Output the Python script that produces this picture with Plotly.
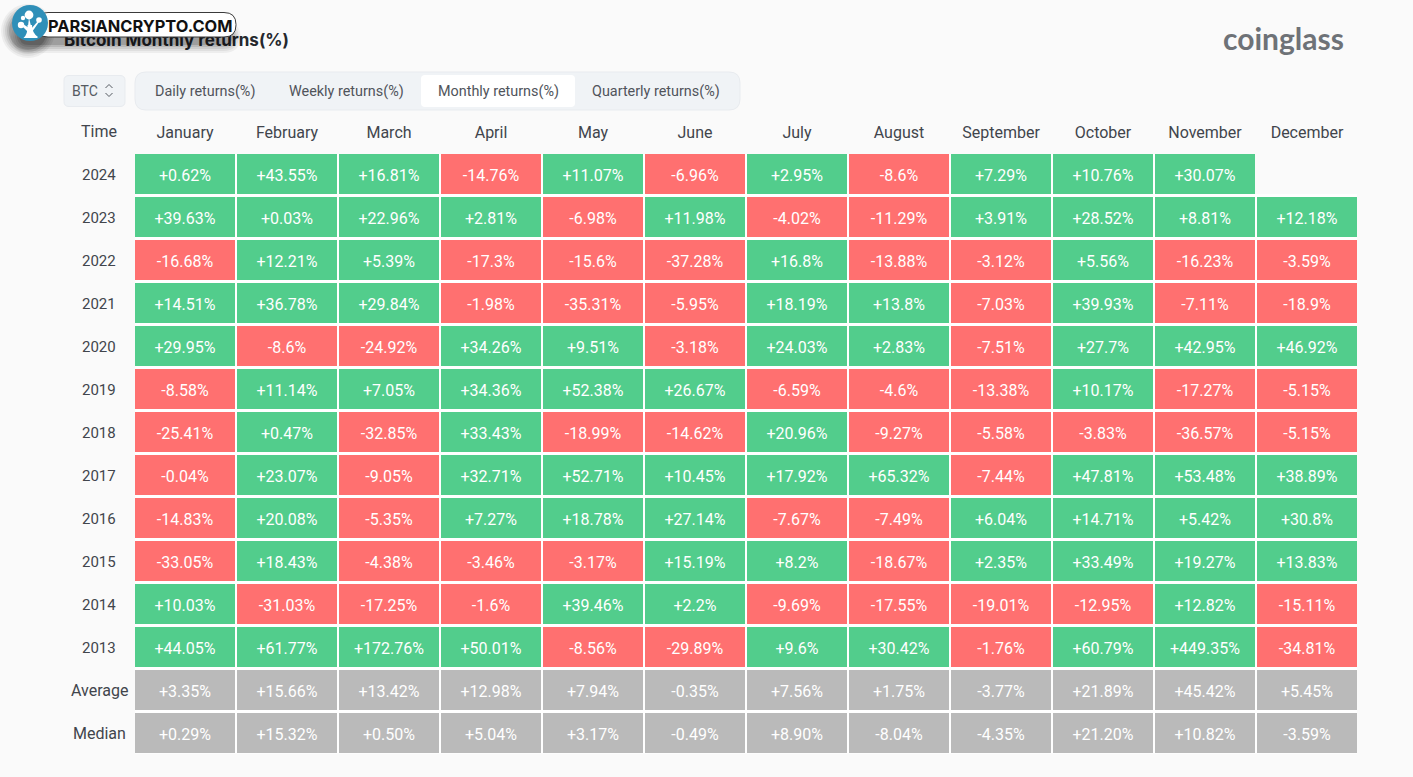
import plotly.graph_objects as go

months = ["January","February","March","April","May","June","July","August","September","October","November","December"]
years = ["2024","2023","2022","2021","2020","2019","2018","2017","2016","2015","2014","2013"]
r2024 = [0.62,43.55,16.81,-14.76,11.07,-6.96,2.95,-8.6,7.29,10.76,30.07,None]
r2023 = [39.63,0.03,22.96,2.81,-6.98,11.98,-4.02,-11.29,3.91,28.52,8.81,12.18]
r2022 = [-16.68,12.21,5.39,-17.3,-15.6,-37.28,16.8,-13.88,-3.12,5.56,-16.23,-3.59]
r2021 = [14.51,36.78,29.84,-1.98,-35.31,-5.95,18.19,13.8,-7.03,39.93,-7.11,-18.9]
r2020 = [29.95,-8.6,-24.92,34.26,9.51,-3.18,24.03,2.83,-7.51,27.7,42.95,46.92]
r2019 = [-8.58,11.14,7.05,34.36,52.38,26.67,-6.59,-4.6,-13.38,10.17,-17.27,-5.15]
r2018 = [-25.41,0.47,-32.85,33.43,-18.99,-14.62,20.96,-9.27,-5.58,-3.83,-36.57,-5.15]
r2017 = [-0.04,23.07,-9.05,32.71,52.71,10.45,17.92,65.32,-7.44,47.81,53.48,38.89]
r2016 = [-14.83,20.08,-5.35,7.27,18.78,27.14,-7.67,-7.49,6.04,14.71,5.42,30.8]
r2015 = [-33.05,18.43,-4.38,-3.46,-3.17,15.19,8.2,-18.67,2.35,33.49,19.27,13.83]
r2014 = [10.03,-31.03,-17.25,-1.6,39.46,2.2,-9.69,-17.55,-19.01,-12.95,12.82,-15.11]
r2013 = [44.05,61.77,172.76,50.01,-8.56,-29.89,9.6,30.42,-1.76,60.79,449.35,-34.81]
average = [3.35,15.66,13.42,12.98,7.94,-0.35,7.56,1.75,-3.77,21.89,45.42,5.45]
median = [0.29,15.32,0.50,5.04,3.17,-0.49,8.90,-8.04,-4.35,21.20,10.82,-3.59]
tabs = ["Daily returns(%)","Weekly returns(%)","Monthly returns(%)","Quarterly returns(%)"]

year_rows = [r2024,r2023,r2022,r2021,r2020,r2019,r2018,r2017,r2016,r2015,r2014,r2013]
row_names = years + ["Average","Median"]

GREEN, RED, GREY = "#52cd8c", "#ff7070", "#bababa"
INK = "#41454c"
BG = "#fafafa"
FONT = "Roboto"

def kind(v):
    return None if v is None else (1 if v >= 0 else 0)

z = [[kind(v) for v in row] for row in year_rows] + [[2]*12, [2]*12]
text = [["" if v is None else f"{v:+g}%" for v in row] for row in year_rows] \
     + [[f"{v:+.2f}%" for v in average], [f"{v:+.2f}%" for v in median]]

W, H = 1413, 777
X0, X1 = 134, 1358
Y0, Y1 = 153, 755

fig = go.Figure()
fig.add_trace(go.Heatmap(
    z=z, x=months, y=row_names, text=text, texttemplate="%{text}",
    textfont=dict(color="white", size=16, family=FONT),
    colorscale=[[0,RED],[0.3333,RED],[0.3333,GREEN],[0.6667,GREEN],[0.6667,GREY],[1,GREY]],
    zmin=0, zmax=2, showscale=False, xgap=2, ygap=3, hoverongaps=False, hoverinfo="skip",
))
# pixel-space overlay for the page furniture
fig.add_trace(go.Scatter(
    x=[64], y=[41.5], xaxis="x2", yaxis="y2", mode="text", text=["<b>Bitcoin Monthly returns(%)</b>"],
    textposition="middle right", textfont=dict(size=17, color="#25282d", family="Inter"),
    hoverinfo="skip", showlegend=False,
))

def box(x0,y0,x1,y1,r):
    return (f"M{x0+r},{y0} L{x1-r},{y0} Q{x1},{y0} {x1},{y0+r} L{x1},{y1-r} Q{x1},{y1} {x1-r},{y1} "
            f"L{x0+r},{y1} Q{x0},{y1} {x0},{y1-r} L{x0},{y0+r} Q{x0},{y0} {x0+r},{y0} Z")

shapes = []
def path(d, fill, line=None, lw=0, opacity=1, layer="above"):
    shapes.append(dict(type="path", path=d, fillcolor=fill, opacity=opacity, layer=layer, xref="x2", yref="y2",
                       line=dict(color=line or "rgba(0,0,0,0)", width=lw)))
def circle(cx, cy, r, fill, line=None, lw=0, opacity=1):
    shapes.append(dict(type="circle", x0=cx-r, x1=cx+r, y0=cy-r, y1=cy+r, fillcolor=fill, opacity=opacity,
                       layer="above", xref="x2", yref="y2", line=dict(color=line or "rgba(0,0,0,0)", width=lw)))
def gutter(x0, y0, x1, y1):
    # paper-referenced so that it lies under every subplot, not over the heatmap
    shapes.append(dict(type="rect", xref="paper", yref="paper", layer="below", fillcolor="#ffffff", line_width=0,
                       x0=x0/W, x1=x1/W, y0=1-y1/H, y1=1-y0/H))

# white gutters behind the cells (the empty December 2024 slot keeps the page colour)
gutter(135, 194, 1357, 753.5)
gutter(135, 154, 1255, 194)

# page furniture
path(box(64,75.5,125,106.5,5), "#f0f3f6", "#e8ebef", 1)
path(box(135,72,740,110,11), "#f0f3f6", "#e8ebef", 1)
path(box(421,75,575,107,4), "#ffffff")
# selector chevrons
path("M105.5,88 L109,84.5 L112.5,88", "rgba(0,0,0,0)", "#555a61", 1)
path("M105.5,93 L109,96.5 L112.5,93", "rgba(0,0,0,0)", "#555a61", 1)

# watermark shadow
for grow, op in [(9,0.05),(7,0.06),(5,0.08),(3,0.10),(1,0.14)]:
    path(box(20-grow,27-grow+3,232+grow,44+grow,9+grow), "#000000", opacity=op)
    circle(28,31,18+grow,"#000000",opacity=op)
# watermark pill + emblem
path(box(36,12.5,236,37,12), "#ffffff", "#3a3a3a", 1)
circle(30,23,18,"#2f8fb8")
circle(29,15,4.4,"#ffffff")
circle(21,25,3.2,"#ffffff")
circle(39,20,2.8,"#ffffff")
circle(23,18,2.2,"#ffffff")
path("M23.5,38 Q28,34 27.5,25 L32,25 Q32,33 38,37 L37,38 Z", "#ffffff")
path("M22,26 L29,33 L29,28 L23,24 Z", "#ffffff")
path("M29,18 L28,26 L31,26 Z", "#ffffff")
path("M38,21 L31,29 L32,32 L39,22 Z", "#ffffff")

annotations = []
def label(x, y, s, size=14, color=INK, family=FONT, anchor="center", yref="y2"):
    annotations.append(dict(x=x, y=y, xref="x2", yref=yref, text=s, showarrow=False, xanchor=anchor, yanchor="middle",
                            font=dict(size=size, color=color, family=family)))
label(85, 91, "BTC", 14, "#555a61")
label(99, 131, "Time", 16)
for s, cx in zip(tabs, [205, 346.5, 498, 656]):
    label(cx, 91, s, 14.4, "#50545b")
# row names: centred in the left column; on a category axis a numeric-looking name would be read as a position
for i, name in enumerate(row_names):
    label(99, i, name, 15 if name.isdigit() else 16, yref="y")
label(140, 25.5, "<b>PARSIANCRYPTO.COM</b>", 16.4, "#111111", "Inter")
label(1283.5, 37.5, "<b>coinglass</b>", 30, "#6e7277", "Lato")

fig.update_layout(
    width=W, height=H, margin=dict(l=0,r=0,t=0,b=0),
    paper_bgcolor=BG, plot_bgcolor="rgba(0,0,0,0)", showlegend=False,
    shapes=shapes, annotations=annotations,
    xaxis=dict(domain=[X0/W, X1/W], side="top", type="category", showgrid=False, zeroline=False, ticks="",
               tickfont=dict(size=16, color=INK, family=FONT), ticklabelstandoff=11, fixedrange=True),
    yaxis=dict(domain=[1-Y1/H, 1-Y0/H], type="category", categoryorder="array", categoryarray=row_names,
               autorange="reversed", showgrid=False, zeroline=False, ticks="",
               showticklabels=False, fixedrange=True),
    xaxis2=dict(domain=[0,1], range=[0,W], visible=False, anchor="y2", fixedrange=True),
    yaxis2=dict(domain=[0,1], range=[H,0], visible=False, anchor="x2", fixedrange=True),
)
fig.write_html("out.html", config=dict(displayModeBar=False),
               post_script="document.body.style.margin='0';document.documentElement.style.background='#fafafa';document.body.style.overflow='hidden';")
